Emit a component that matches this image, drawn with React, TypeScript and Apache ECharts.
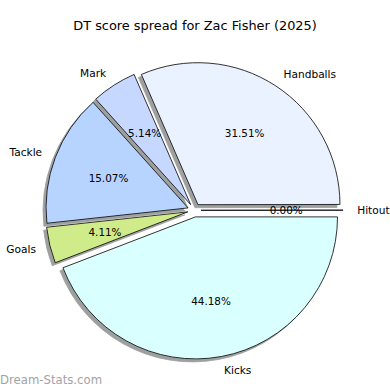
import React, { useEffect, useRef } from "react";
import * as echarts from "echarts";

const titleText = "DT score spread for Zac Fisher (2025)";
const watermarkText = "Dream-Stats.com";
const categories = ["Hitout", "Handballs", "Mark", "Tackle", "Goals", "Kicks"];
const values = [0, 92, 15, 44, 12, 129];
const sliceColors = ["#f4f4f4", "#eaf1ff", "#c6d8ff", "#b6d4ff", "#cfeb8a", "#daffff"];

const FONT = "DejaVu Sans";
const R = 142;
const CENTER: [number, number] = [194.3, 210.3];
const EXPLODE = 6.7;

export default function App() {
  const ref = useRef<HTMLDivElement>(null);
  useEffect(() => {
    if (!ref.current) return;
    const chart = echarts.init(ref.current, undefined, { renderer: "svg" });
    const total = values.reduce((a, b) => a + b, 0);
    const pct = (v: number) => ((v / total) * 100).toFixed(2) + "%";

    const mainData = categories.map((name, i) => ({
      name,
      value: values[i],
      selected: true,
      itemStyle: { color: sliceColors[i] },
    }));
    const labelData = categories.map((name, i) => ({
      name,
      value: values[i],
      selected: true,
    }));

    chart.setOption({
      animation: false,
      backgroundColor: "#ffffff",
      title: {
        text: titleText,
        left: "center",
        top: 14,
        textStyle: { fontFamily: FONT, fontSize: 12.9, fontWeight: "normal", color: "#000" },
      },
      graphic: [
        {
          type: "text",
          left: 0,
          top: 374,
          style: { text: watermarkText, font: `11.7px '${FONT}'`, fill: "#a3a3a3" },
        },
      ],
      series: [
        {
          type: "pie",
          radius: R,
          center: CENTER,
          startAngle: 0,
          clockwise: false,
          selectedMode: "multiple",
          selectedOffset: EXPLODE,
          avoidLabelOverlap: false,
          stillShowZeroSum: true,
          minAngle: 0.1,
          itemStyle: {
            borderColor: "#000",
            borderWidth: 0.8,
            shadowColor: "rgba(60,64,64,0.5)",
            shadowBlur: 0,
            shadowOffsetX: -3,
            shadowOffsetY: 3,
          },
          select: {
            itemStyle: {
              borderColor: "#000",
              borderWidth: 0.8,
            },
          },
          emphasis: { disabled: true },
          label: {
            show: true,
            position: "outside",
            distanceToLabelLine: 0,
            fontFamily: FONT,
            fontSize: 10.6,
            color: "#000",
            formatter: "{b}",
          },
          labelLine: { show: false, length: 0.1 * R, length2: 0 },
          data: mainData,
          z: 2,
        },
        {
          type: "pie",
          radius: 2 * (0.6 * R - 3),
          center: CENTER,
          startAngle: 0,
          clockwise: false,
          selectedMode: "multiple",
          selectedOffset: EXPLODE,
          avoidLabelOverlap: false,
          stillShowZeroSum: true,
          minAngle: 0.1,
          silent: true,
          itemStyle: { color: "rgba(0,0,0,0)", borderWidth: 0 },
          select: { itemStyle: { color: "rgba(0,0,0,0)", borderWidth: 0 } },
          emphasis: { disabled: true },
          label: {
            show: true,
            position: "inside",
            fontFamily: FONT,
            fontSize: 10.4,
            color: "#000",
            formatter: (p: any) => pct(p.value),
          },
          labelLine: { show: false },
          data: labelData,
          z: 3,
        },
      ],
    });
    return () => chart.dispose();
  }, []);
  return (
    <div
      ref={ref}
      style={{ position: "fixed", left: 0, top: 0, width: 390, height: 390 }}
    />
  );
}
